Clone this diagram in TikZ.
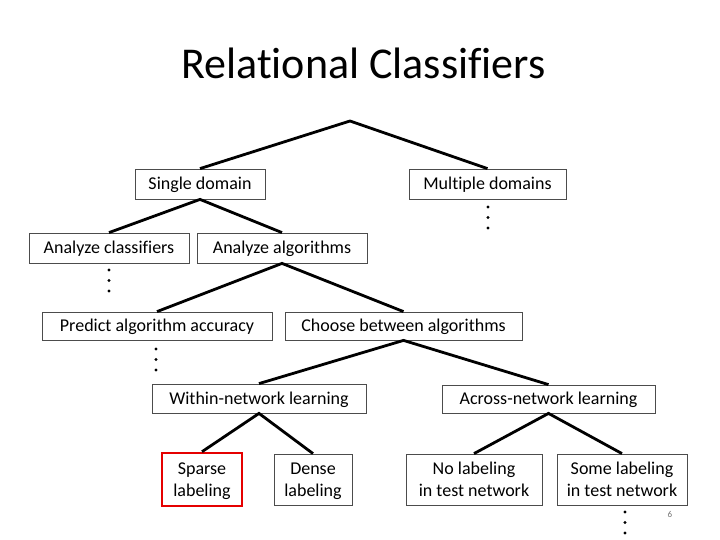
\documentclass[tikz,border=0pt]{standalone}
\usepackage{fontspec}
\setmainfont{Carlito}[Ligatures=NoCommon]

\begin{document}
\begin{tikzpicture}[x=1pt, y=-1pt,
  box/.style={draw=black!70, line width=0.8pt, rectangle, inner sep=0pt,
    align=center, font=\fontsize{18}{21.6}\selectfont,
    text height=11.6pt, text depth=0pt},
  twoline/.style={box, text height=33.2pt},
  redbox/.style={twoline, draw=red!90!black, line width=2.6pt},
  branch/.style={line width=2.8pt},
  dot/.style={fill=black},
]
  \useasboundingbox (0,0) rectangle (720,540);
  \node[anchor=base, font=\fontsize{44}{50}\selectfont] (title) at (363.5,79) {Relational Classifiers};
  \coordinate (root) at (350,121);
  \node[box, minimum width=130pt, minimum height=30pt] (single)  at (200,184)   {Single domain};
  \node[box, minimum width=157pt, minimum height=30pt] (multi)   at (487.5,184) {Multiple domains};
  \node[box, minimum width=160pt, minimum height=30pt] (anacl)   at (109,248)   {Analyze classifiers};
  \node[box, minimum width=170pt, minimum height=30pt] (anaal)   at (282,248)   {Analyze algorithms};
  \node[box, minimum width=230pt, minimum height=28pt] (predict) at (157,326)   {Predict algorithm accuracy};
  \node[box, minimum width=237pt, minimum height=28pt] (choose)  at (403.5,326) {Choose between algorithms};
  \node[box, minimum width=214pt, minimum height=29pt] (within)  at (259,398.5) {Within-network learning};
  \node[box, minimum width=213pt, minimum height=28pt] (across)  at (548.5,399) {Across-network learning};
  \node[redbox, minimum width=80pt, minimum height=53pt] (sparse) at (202,479.5) {Sparse\\labeling};
  \node[twoline, minimum width=78pt, minimum height=51pt] (dense)    at (313,479.5) {Dense\\labeling};
  \node[twoline, minimum width=136pt, minimum height=51pt] (nolab)   at (474,479.5) {No labeling\\in test network};
  \node[twoline, minimum width=130pt, minimum height=51pt] (somelab) at (622,479.5) {Some labeling\\in test network};
  % tree branches
  \draw[branch] (single.north) -- (root) -- (multi.north);
  \draw[branch] (anacl.north) -- (single.south) -- (anaal.north);
  \draw[branch] (predict.north) -- (anaal.south) -- (choose.north);
  \draw[branch] (within.north) -- (choose.south) -- (across.north);
  \draw[branch] (sparse.north) -- (within.south) -- (dense.north);
  \draw[branch] (nolab.north) -- (across.south) -- (somelab.north);
  % vertical ellipses
  \foreach \x/\y in {488/207, 109/270, 156/349, 625/512}
    \foreach \k in {0,1,2}
      \fill[dot] (\x,\y+10.5*\k) circle (1.6pt);
  \node[text=black!55, font=\fontsize{9}{10}\selectfont] (page) at (670,514) {6};
\end{tikzpicture}
\end{document}
